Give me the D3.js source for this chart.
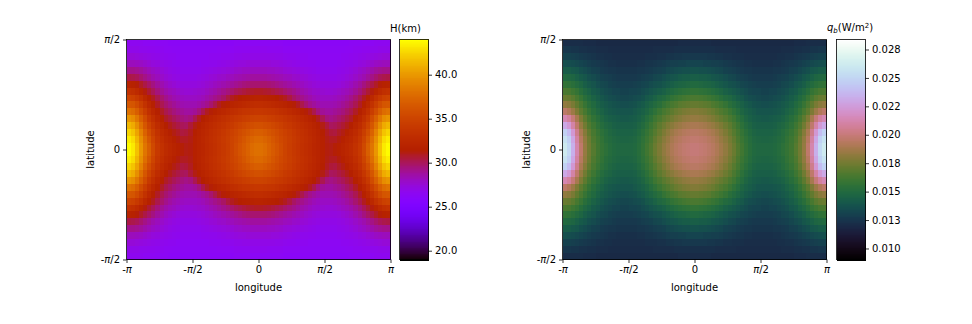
<!DOCTYPE html>
<html>
<head>
<meta charset="utf-8">
<script src="https://cdn.jsdelivr.net/npm/d3@7"></script>
<style>
  body { margin: 0; background: #fff; }
  text { font-family: "DejaVu Sans", sans-serif; fill: #000; }
</style>
</head>
<body>
<script>
// Values. Both maps look symmetric about lon=0 and lat=0,
// so only the top-left quadrant is kept: rows go top to equator, columns -pi to 0.
var crustThickness = [
  [26.6,26.6,26.6,26.6,26.5,26.5,26.5,26.4,26.4,26.4,26.3,26.3,26.3,26.3,26.3,26.3,26.3,26.3,26.3,26.3,26.3,26.3,26.3,26.3,26.3,26.3,26.4,26.4,26.4,26.4,26.4,26.4],
  [26.9,26.9,26.9,26.8,26.8,26.7,26.7,26.6,26.6,26.5,26.5,26.4,26.4,26.4,26.4,26.4,26.4,26.4,26.4,26.4,26.4,26.4,26.5,26.5,26.5,26.5,26.6,26.6,26.6,26.6,26.7,26.7],
  [27.5,27.5,27.4,27.3,27.2,27.1,27.0,26.9,26.8,26.7,26.6,26.6,26.5,26.5,26.5,26.5,26.5,26.5,26.5,26.5,26.6,26.6,26.6,26.7,26.7,26.8,26.9,26.9,27.0,27.0,27.0,27.0],
  [28.2,28.2,28.1,28.0,27.8,27.6,27.4,27.3,27.1,27.0,26.9,26.8,26.7,26.6,26.6,26.6,26.6,26.6,26.7,26.7,26.8,26.8,26.9,27.0,27.1,27.2,27.3,27.4,27.4,27.5,27.5,27.5],
  [29.2,29.2,29.1,28.9,28.6,28.3,28.0,27.8,27.5,27.3,27.1,27.0,26.9,26.8,26.8,26.8,26.8,26.8,26.9,27.0,27.1,27.2,27.3,27.4,27.5,27.6,27.8,27.9,28.0,28.0,28.1,28.1],
  [30.4,30.3,30.1,29.7,29.3,28.9,28.5,28.2,27.9,27.6,27.4,27.2,27.1,27.0,27.0,27.0,27.0,27.1,27.2,27.3,27.5,27.6,27.8,27.9,28.1,28.2,28.4,28.5,28.6,28.7,28.8,28.8],
  [31.9,31.8,31.4,30.9,30.4,29.9,29.4,28.9,28.5,28.1,27.8,27.6,27.4,27.3,27.3,27.3,27.3,27.4,27.5,27.7,27.9,28.1,28.3,28.5,28.7,28.9,29.1,29.3,29.5,29.6,29.7,29.7],
  [33.4,33.2,32.7,32.0,31.3,30.7,30.1,29.5,29.0,28.6,28.3,28.1,27.9,27.7,27.6,27.6,27.7,27.8,27.9,28.1,28.4,28.6,28.9,29.2,29.5,29.8,30.1,30.3,30.5,30.7,30.8,30.9],
  [35.0,34.8,34.2,33.4,32.5,31.7,31.0,30.3,29.7,29.2,28.8,28.5,28.3,28.1,28.0,28.0,28.0,28.1,28.3,28.6,28.9,29.2,29.5,29.9,30.5,31.0,31.3,31.5,31.7,31.8,31.9,32.0],
  [36.5,36.3,35.6,34.6,33.5,32.5,31.7,30.9,30.2,29.7,29.3,29.0,28.7,28.5,28.4,28.4,28.4,28.6,28.9,29.2,29.7,30.3,31.0,31.4,31.7,32.0,32.2,32.4,32.6,32.8,32.9,33.0],
  [38.1,37.8,36.9,35.7,34.5,33.3,32.4,31.6,30.9,30.3,29.9,29.5,29.2,29.0,28.8,28.8,29.0,29.5,30.3,31.0,31.4,31.8,32.1,32.4,32.7,33.0,33.2,33.5,33.7,33.8,33.9,34.0],
  [39.9,39.5,38.4,37.0,35.6,34.2,33.2,32.3,31.6,30.9,30.5,30.1,29.8,29.5,29.3,29.5,30.2,31.0,31.5,31.9,32.3,32.6,32.9,33.2,33.5,33.8,34.1,34.3,34.5,34.7,34.9,35.0],
  [41.4,40.9,39.6,38.0,36.4,35.0,33.9,32.9,32.2,31.5,31.1,30.7,30.4,30.1,30.0,30.6,31.2,31.6,32.0,32.4,32.7,33.0,33.3,33.6,34.0,34.3,34.7,35.0,35.3,35.6,35.8,36.0],
  [42.5,41.9,40.6,38.9,37.2,35.8,34.6,33.5,32.7,32.1,31.6,31.2,30.9,30.5,30.6,31.0,31.5,31.9,32.3,32.6,33.0,33.3,33.6,34.0,34.4,34.8,35.2,35.6,36.0,36.3,36.7,36.9],
  [43.4,42.8,41.3,39.6,37.9,36.5,35.1,33.9,33.1,32.5,32.1,31.7,31.3,31.0,31.0,31.2,31.7,32.0,32.4,32.8,33.1,33.4,33.8,34.2,34.6,35.0,35.4,35.9,36.4,36.9,37.3,37.6],
  [43.9,43.3,41.8,40.0,38.3,37.0,35.5,34.2,33.4,32.8,32.4,32.0,31.7,31.4,31.2,31.3,31.7,32.0,32.3,32.7,33.0,33.3,33.7,34.1,34.5,35.0,35.6,36.2,36.7,37.2,37.7,38.0]
];

// same layout, in mW/m2
var basalFlux = [
  [12.2,12.2,12.2,12.2,12.2,12.1,12.1,12.1,12.0,12.0,12.0,12.0,12.0,12.0,12.0,12.0,12.0,12.0,12.0,12.0,12.0,12.0,12.0,12.0,12.0,12.0,12.0,12.0,12.1,12.1,12.1,12.1],
  [12.6,12.6,12.5,12.5,12.4,12.4,12.3,12.3,12.2,12.2,12.2,12.1,12.1,12.1,12.1,12.1,12.1,12.1,12.1,12.1,12.1,12.1,12.2,12.2,12.2,12.2,12.2,12.3,12.3,12.3,12.3,12.3],
  [13.1,13.1,13.0,12.9,12.8,12.7,12.6,12.5,12.4,12.4,12.3,12.3,12.2,12.2,12.2,12.2,12.2,12.2,12.2,12.2,12.3,12.3,12.3,12.4,12.4,12.5,12.5,12.6,12.6,12.7,12.7,12.7],
  [13.7,13.6,13.5,13.4,13.2,13.1,12.9,12.8,12.7,12.6,12.5,12.4,12.4,12.3,12.3,12.3,12.3,12.3,12.4,12.4,12.5,12.5,12.6,12.7,12.8,12.9,13.0,13.0,13.1,13.1,13.2,13.2],
  [14.3,14.3,14.1,14.0,13.7,13.5,13.3,13.1,13.0,12.8,12.7,12.6,12.6,12.5,12.5,12.5,12.5,12.5,12.6,12.6,12.7,12.8,12.9,13.0,13.1,13.3,13.4,13.5,13.6,13.7,13.7,13.8],
  [15.0,14.9,14.8,14.5,14.2,14.0,13.7,13.5,13.3,13.1,13.0,12.9,12.8,12.7,12.7,12.7,12.7,12.7,12.8,12.9,13.0,13.1,13.3,13.4,13.6,13.8,13.9,14.0,14.2,14.3,14.3,14.4],
  [15.7,15.6,15.4,15.1,14.8,14.4,14.1,13.9,13.6,13.4,13.3,13.1,13.0,12.9,12.9,12.9,12.9,13.0,13.1,13.2,13.3,13.5,13.7,13.8,14.0,14.2,14.4,14.6,14.7,14.8,14.9,15.0],
  [16.5,16.4,16.1,15.8,15.3,14.9,14.6,14.2,14.0,13.7,13.5,13.4,13.2,13.2,13.1,13.1,13.2,13.2,13.3,13.5,13.7,13.9,14.1,14.3,14.5,14.8,15.0,15.2,15.4,15.5,15.6,15.7],
  [17.3,17.2,16.9,16.4,15.9,15.4,15.0,14.6,14.3,14.0,13.8,13.6,13.5,13.4,13.3,13.3,13.4,13.5,13.6,13.8,14.1,14.3,14.6,14.9,15.1,15.4,15.7,15.9,16.1,16.3,16.4,16.5],
  [18.3,18.1,17.7,17.1,16.5,15.9,15.4,15.0,14.6,14.3,14.1,13.9,13.8,13.7,13.6,13.6,13.7,13.8,14.0,14.2,14.5,14.8,15.1,15.4,15.8,16.1,16.4,16.6,16.9,17.0,17.1,17.2],
  [19.6,19.2,18.6,17.8,17.0,16.4,15.8,15.3,14.9,14.6,14.3,14.1,14.0,13.9,13.9,13.9,13.9,14.1,14.3,14.5,14.8,15.2,15.6,16.0,16.4,16.7,17.0,17.3,17.5,17.7,17.8,17.9],
  [21.4,20.9,20.0,18.9,17.8,17.0,16.3,15.7,15.3,14.9,14.6,14.4,14.3,14.2,14.1,14.1,14.2,14.3,14.5,14.8,15.2,15.6,16.1,16.5,16.9,17.2,17.5,17.8,18.0,18.2,18.3,18.4],
  [23.1,22.4,21.1,19.7,18.4,17.5,16.7,16.1,15.6,15.2,14.9,14.7,14.5,14.4,14.4,14.4,14.4,14.5,14.8,15.1,15.5,16.0,16.5,17.0,17.4,17.8,18.1,18.4,18.6,18.8,18.9,19.0],
  [24.8,23.9,22.3,20.5,19.0,18.0,17.1,16.4,15.9,15.5,15.2,14.9,14.7,14.6,14.6,14.6,14.6,14.7,15.0,15.4,15.8,16.3,16.8,17.3,17.8,18.2,18.6,18.9,19.1,19.3,19.4,19.5],
  [25.7,24.8,23.0,21.0,19.4,18.3,17.4,16.6,16.1,15.7,15.3,15.1,14.9,14.8,14.7,14.7,14.8,14.9,15.2,15.6,16.0,16.5,17.1,17.6,18.1,18.5,18.9,19.2,19.4,19.6,19.7,19.8],
  [26.2,25.2,23.4,21.3,19.7,18.4,17.5,16.8,16.2,15.8,15.5,15.2,15.0,14.9,14.9,14.9,14.9,15.0,15.3,15.7,16.2,16.7,17.3,17.8,18.3,18.7,19.1,19.4,19.6,19.8,19.9,20.0]
];

var lonTicks = [-Math.PI, -Math.PI / 2, 0, Math.PI / 2, Math.PI];
var lonLabels = ["-π", "-π/2", "0", "π/2", "π"];
var latTicks = [-Math.PI / 2, 0, Math.PI / 2];
var latLabels = ["-π/2", "0", "π/2"];

var hTicks = [20, 25, 30, 35, 40];
var hTickLabels = ["20.0", "25.0", "30.0", "35.0", "40.0"];
var hExtent = [19, 44];

var qTicks = [10, 12.5, 15, 17.5, 20, 22.5, 25, 27.5];
var qTickLabels = ["0.010", "0.013", "0.015", "0.018", "0.020", "0.022", "0.025", "0.028"];
var qExtent = [9.03, 28.38];

var width = 972, height = 324;
var top_ = 39.5, bottom_ = 259.5;

var svg = d3.select('body')
  .append('svg')
  .attr('width', width)
  .attr('height', height)
  .style('display', 'block');

// matplotlib's gnuplot colormap
function gnuplot(t) {
  var r = Math.sqrt(t), g = t * t * t, b = Math.max(0, Math.sin(2 * Math.PI * t));
  return d3.rgb(255 * r, 255 * g, 255 * b).formatRgb();
}

function mirror(quadrant) {
  var halves = quadrant.map(function(row) {
    return row.concat(row.slice().reverse());
  });
  return halves.concat(halves.slice().reverse());
}

// tick labels have an italic pi, the rest is upright
function italicPi(selection) {
  selection.each(function() {
    var label = d3.select(this);
    var parts = label.text().split('π');
    label.text(null);
    parts.forEach(function(part, i) {
      if (i > 0) label.append('tspan').style('font-style', 'italic').text('π');
      if (part) label.append('tspan').text(part);
    });
  });
}

function styleAxis(axisNodes) {
  axisNodes.select('.domain').remove();
  axisNodes.selectAll('.tick line').attr('stroke', '#000').attr('stroke-width', 0.8);
  axisNodes.selectAll('.tick text').style('font-size', '10px').call(italicPi);
}

function drawPanel(p) {
  var grid = mirror(p.values);
  var color = d3.scaleSequential(p.interpolator).domain(p.extent);

  var xBand = d3.scaleBand().domain(d3.range(grid[0].length)).range([p.x0, p.x1]);
  var yBand = d3.scaleBand().domain(d3.range(grid.length)).range([top_, bottom_]);

  // map cells
  svg.append('g')
    .attr('shape-rendering', 'crispEdges')
    .selectAll('g')
    .data(grid)
    .enter()
    .append('g')
    .attr('transform', function(d, i) { return 'translate(0,' + yBand(i) + ')'; })
    .selectAll('rect')
    .data(function(d) { return d; })
    .enter()
    .append('rect')
    .attr('x', function(d, i) { return xBand(i); })
    .attr('width', xBand.bandwidth() + 0.5)
    .attr('height', yBand.bandwidth() + 0.5)
    .attr('fill', function(d) { return color(d); });

  var xScale = d3.scaleLinear().domain([-Math.PI, Math.PI]).range([p.x0, p.x1]);
  var yScale = d3.scaleLinear().domain([-Math.PI / 2, Math.PI / 2]).range([bottom_, top_]);

  var xAxis = d3.axisBottom(xScale).tickValues(lonTicks).tickSize(3.5).tickPadding(3)
    .tickFormat(function(d, i) { return lonLabels[i]; });
  svg.append('g').attr('transform', 'translate(0,' + bottom_ + ')').call(xAxis).call(styleAxis);

  var yAxis = d3.axisLeft(yScale).tickValues(latTicks).tickSize(3.5).tickPadding(3)
    .tickFormat(function(d, i) { return latLabels[i]; });
  svg.append('g').attr('transform', 'translate(' + p.x0 + ',0)').call(yAxis).call(styleAxis);

  svg.append('rect')
    .attr('x', p.x0).attr('y', top_)
    .attr('width', p.x1 - p.x0).attr('height', bottom_ - top_)
    .attr('fill', 'none').attr('stroke', '#000').attr('stroke-width', 0.8);

  svg.append('text')
    .attr('x', (p.x0 + p.x1) / 2).attr('y', 291)
    .attr('text-anchor', 'middle').style('font-size', '10px')
    .text('longitude');

  svg.append('text')
    .attr('transform', 'translate(' + (p.x0 - 33) + ',' + ((top_ + bottom_) / 2) + ') rotate(-90)')
    .attr('text-anchor', 'middle').style('font-size', '10px')
    .text('latitude');

  // colorbar
  var barScale = d3.scaleLinear().domain(p.extent).range([bottom_, top_]);
  var steps = d3.range(256).map(function(i) {
    return p.extent[0] + (p.extent[1] - p.extent[0]) * i / 255;
  });
  svg.append('g')
    .attr('shape-rendering', 'crispEdges')
    .selectAll('rect')
    .data(steps)
    .enter()
    .append('rect')
    .attr('x', p.barX0)
    .attr('y', function(d) { return barScale(d) - 1; })
    .attr('width', p.barX1 - p.barX0)
    .attr('height', 2)
    .attr('fill', function(d) { return color(d); });

  svg.append('rect')
    .attr('x', p.barX0).attr('y', top_)
    .attr('width', p.barX1 - p.barX0).attr('height', bottom_ - top_)
    .attr('fill', 'none').attr('stroke', '#000').attr('stroke-width', 0.8);

  var barAxis = d3.axisRight(barScale).tickValues(p.ticks).tickSize(3.5).tickPadding(3)
    .tickFormat(function(d, i) { return p.tickLabels[i]; });
  svg.append('g').attr('transform', 'translate(' + p.barX1 + ',0)').call(barAxis).call(styleAxis);
}

drawPanel({
  values: crustThickness, extent: hExtent, interpolator: gnuplot,
  ticks: hTicks, tickLabels: hTickLabels,
  x0: 126.5, x1: 390.5, barX0: 399.5, barX1: 428.5
});

drawPanel({
  values: basalFlux, extent: qExtent, interpolator: d3.interpolateCubehelixDefault,
  ticks: qTicks, tickLabels: qTickLabels,
  x0: 562.5, x1: 826.5, barX0: 836.5, barX1: 865.5
});

svg.append('text')
  .attr('x', 390).attr('y', 32)
  .style('font-size', '10px')
  .text('H(km)');

var qTitle = svg.append('text').attr('x', 827).attr('y', 31).style('font-size', '10px');
qTitle.append('tspan').style('font-style', 'italic').text('q');
qTitle.append('tspan').attr('dy', 2).style('font-size', '7px').style('font-style', 'italic').text('b');
qTitle.append('tspan').attr('dy', -2).text('(W/m');
qTitle.append('tspan').attr('dy', -3).style('font-size', '7px').text('2');
qTitle.append('tspan').attr('dy', 3).text(')');
</script>
</body>
</html>
